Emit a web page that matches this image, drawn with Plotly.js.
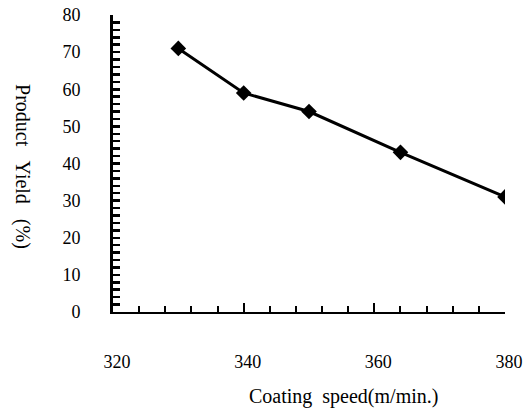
<!DOCTYPE html>
<html>
<head>
<meta charset="utf-8">
<script src="https://cdn.plot.ly/plotly-3.0.1.min.js"></script>
<style>html,body{margin:0;padding:0;background:#fff;}</style>
</head>
<body>
<div id="chart" style="width:523px;height:413px;"></div>
<script>
const speed = [330, 340, 350, 364, 380];
const yieldPct = [71, 59, 54, 43, 31];
const xTickVals = [320, 340, 360, 380];
const xTickText = ['320', '340', '360', '380'];
const yTickVals = [0, 2, 4, 6, 8, 10, 12, 14, 16, 18, 20, 22, 24, 26, 28, 30, 32, 34, 36, 38, 40,
                   42, 44, 46, 48, 50, 52, 54, 56, 58, 60, 62, 64, 66, 68, 70, 72, 74, 76, 78, 80];
const yLabelEvery = 10;
const xTitle = 'Coating  speed(m/min.)';
const yTitle = 'Product   Yield   (%)';

const serif = 'Liberation Serif, serif';
const mkFont = (s) => ({family: serif, size: s, color: '#000'});
const yTickText = yTickVals.map(v => (v % yLabelEvery === 0 ? String(v) : ''));

const trace = {
  x: speed, y: yieldPct, type: 'scatter', mode: 'lines+markers',
  line: {color: '#000', width: 3},
  marker: {symbol: 'diamond', size: 12, color: '#000'},
  showlegend: false, hoverinfo: 'skip'
};

const layout = {
  width: 523, height: 413,
  margin: {l: 113, r: 18, t: 15, b: 101},
  paper_bgcolor: '#fff', plot_bgcolor: '#fff',
  font: mkFont(18),
  xaxis: {
    range: [320, 380], showgrid: false, zeroline: false,
    showline: true, linecolor: '#000', linewidth: 2,
    tickmode: 'array', tickvals: xTickVals, ticktext: xTickText,
    ticks: 'inside', ticklen: 9, tickwidth: 2, tickcolor: '#000',
    ticklabelstandoff: 32, ticklabelshift: 4,
    minor: {dtick: 4, ticks: 'inside', ticklen: 6, tickwidth: 2, tickcolor: '#000', showgrid: false},
    tickfont: mkFont(18)
  },
  yaxis: {
    range: [0, 80], showgrid: false, zeroline: false,
    showline: true, linecolor: '#000', linewidth: 3,
    tickmode: 'array', tickvals: yTickVals, ticktext: yTickText,
    ticks: 'inside', ticklen: 7, tickwidth: 2.5, tickcolor: '#000',
    ticklabelstandoff: 26,
    tickfont: mkFont(18)
  },
  annotations: [
    {text: xTitle, xref: 'paper', yref: 'paper', x: 0.589, y: -0.286,
     xanchor: 'center', yanchor: 'middle', showarrow: false, font: mkFont(20)},
    {text: yTitle, xref: 'paper', yref: 'paper', x: -0.2296, y: 0.488,
     xanchor: 'center', yanchor: 'middle', showarrow: false, textangle: 90, font: mkFont(20)}
  ]
};

Plotly.newPlot('chart', [trace], layout, {displayModeBar: false, staticPlot: true});
</script>
</body>
</html>
